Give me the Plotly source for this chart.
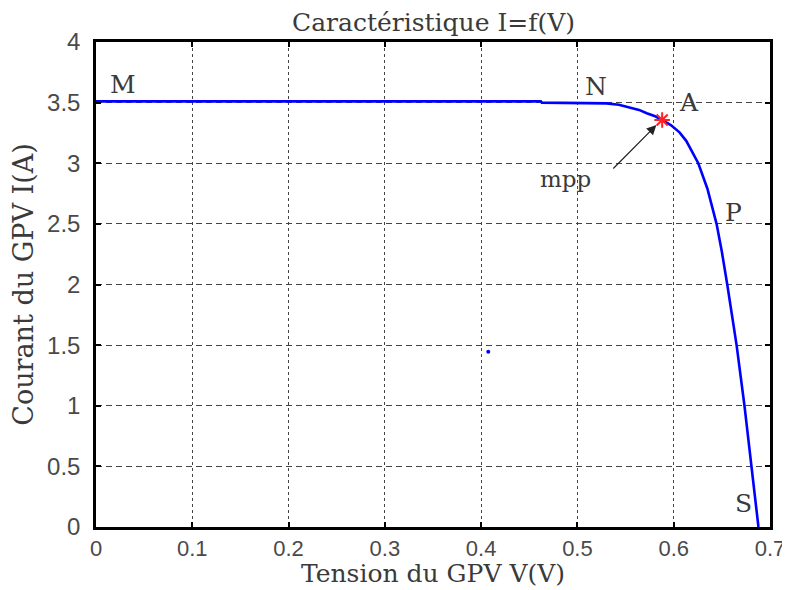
import plotly.graph_objects as go

# I-V characteristic
V = [0.0, 0.1, 0.2, 0.3, 0.4, 0.462, 0.463, 0.50, 0.515, 0.530, 0.543, 0.555,
     0.564, 0.572, 0.580, 0.587, 0.597, 0.606, 0.613, 0.6255, 0.635, 0.6445,
     0.650, 0.6556, 0.6653, 0.6735, 0.6808, 0.688]
I = [3.51, 3.51, 3.51, 3.51, 3.51, 3.51, 3.50, 3.50, 3.498, 3.494, 3.482, 3.461,
     3.44, 3.412, 3.39, 3.36, 3.315, 3.255, 3.185, 3.0, 2.79, 2.5,
     2.27, 2.0, 1.5, 1.0, 0.5, 0.0]

mpp_v = [0.588]
mpp_i = [3.357]

stray_v = [0.4074]
stray_i = [1.446]

label_text = ["M", "N", "A", "P", "S"]
label_v = [0.028, 0.519, 0.616, 0.6625, 0.672]
label_i = [3.65, 3.63, 3.50, 2.59, 0.19]

x_ticks = [0, 0.1, 0.2, 0.3, 0.4, 0.5, 0.6, 0.7]
y_ticks = [0, 0.5, 1, 1.5, 2, 2.5, 3, 3.5, 4]

SERIF = "DejaVu Serif"
SANS = "Liberation Sans"
TXT = "#3a3a3a"

fig = go.Figure()
fig.add_trace(go.Scatter(x=V, y=I, mode="lines",
                         line=dict(color="#0000ff", width=2.6),
                         showlegend=False))
fig.add_trace(go.Scatter(x=stray_v, y=stray_i, mode="markers",
                         marker=dict(color="#0000ff", size=4), showlegend=False))
fig.add_trace(go.Scatter(x=mpp_v, y=mpp_i, mode="markers",
                         marker=dict(color="#ff2020", size=13, symbol="asterisk-open",
                                     line=dict(color="#ff2020", width=2)),
                         showlegend=False))

for t, vx, iy in zip(label_text, label_v, label_i):
    fig.add_annotation(x=vx, y=iy, text=t, showarrow=False,
                       font=dict(family=SERIF, size=25, color=TXT))

fig.add_annotation(x=0.582, y=3.315, ax=0.5357, ay=2.944, axref="x", ayref="y",
                   xref="x", yref="y", text="", showarrow=True,
                   arrowhead=2, arrowsize=1.6, arrowwidth=1.2, arrowcolor="#222")
fig.add_annotation(x=0.488, y=2.87, text="mpp", showarrow=False,
                   font=dict(family=SERIF, size=23, color=TXT))

# title as text above plot area
fig.add_annotation(xref="paper", yref="paper", x=0.5, y=1.0, yanchor="bottom",
                   yshift=3, text="Caractéristique I=f(V)", showarrow=False,
                   font=dict(family=SERIF, size=25, color=TXT))

axis_common = dict(showline=True, linecolor="black", linewidth=2.5, mirror="allticks",
                   ticks="inside", ticklen=5, tickwidth=1.5, tickcolor="black",
                   showgrid=True, gridcolor="#444444", gridwidth=1.3,
                   zeroline=False, automargin=False)

fig.update_xaxes(range=[0, 0.7], tickvals=x_ticks, ticktext=[str(v) for v in x_ticks],
                 griddash="3px,3px", ticklabelstandoff=0,
                 tickfont=dict(family=SANS, size=22, color="#4a4a4a"),
                 title=dict(text="Tension du GPV V(V)", standoff=6,
                            font=dict(family=SERIF, size=25, color=TXT)),
                 **axis_common)
fig.update_yaxes(range=[0, 4], tickvals=y_ticks, ticktext=[str(v) for v in y_ticks],
                 griddash="6px,4px", ticklabelstandoff=8,
                 tickfont=dict(family=SANS, size=24, color="#4a4a4a"),
                 title=dict(text="Courant du GPV I(A)", standoff=9,
                            font=dict(family=SERIF, size=27, color=TXT)),
                 **axis_common)

# page body has an 8px margin: offset figure so the plot area lands at x 96-770, y 42-527
fig.update_layout(
    width=780, height=580,
    margin=dict(l=88, r=18, t=34, b=61),
    plot_bgcolor="white", paper_bgcolor="white",
)

fig.write_html("out.html")
